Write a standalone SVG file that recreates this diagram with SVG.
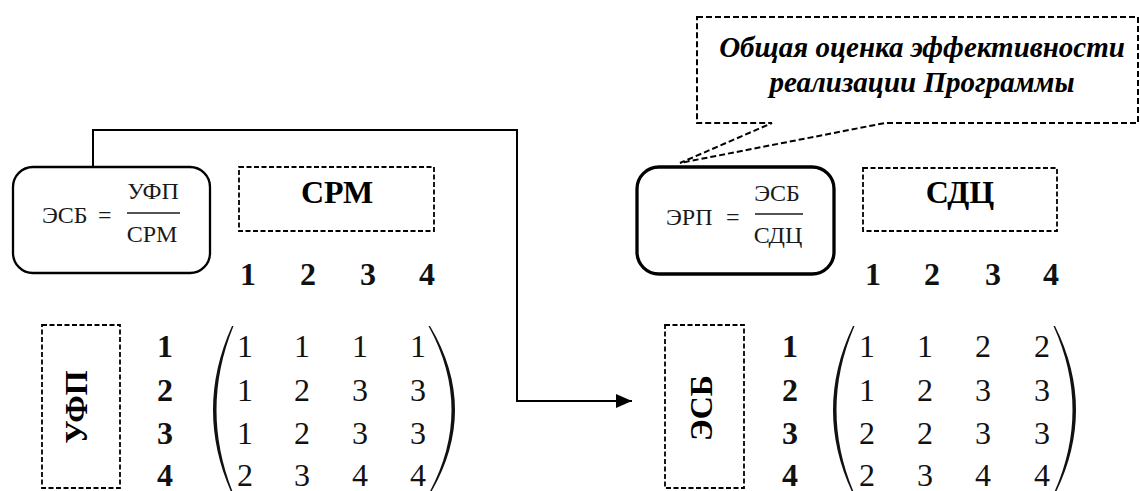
<svg xmlns="http://www.w3.org/2000/svg" width="1140" height="491" viewBox="0 0 1140 491">
<style>
.dash{fill:none;stroke:#000;stroke-width:1.8;stroke-dasharray:5 2.5}
.call{fill:none;stroke:#000;stroke-width:2;stroke-dasharray:6 3}
.rbox{fill:#fff;stroke:#000}
.lbl{font-family:"Liberation Serif",serif;font-weight:bold;font-size:32px;fill:#000;text-anchor:middle}
.num{font-family:"Liberation Serif",serif;font-size:32px;fill:#111;text-anchor:middle}
.hdr{font-family:"Liberation Serif",serif;font-weight:bold;font-size:32px;fill:#111;text-anchor:middle}
.f{font-family:"Liberation Serif",serif;font-size:24px;fill:#1a1a1a}
.fm{font-family:"Liberation Serif",serif;font-size:24px;fill:#1a1a1a;text-anchor:middle}
.it{font-family:"Liberation Serif",serif;font-weight:bold;font-style:italic;font-size:29px;fill:#000;text-anchor:middle}
.par{fill:#111}
</style>
<defs>
<marker id="arr" markerWidth="16" markerHeight="14" refX="16" refY="7" orient="auto" markerUnits="userSpaceOnUse">
<path d="M0,0 L16,7 L0,14 Z" fill="#000"/>
</marker>
</defs>

<g id="connectors">
<path d="M93,167 V130 H517 V401 H632" fill="none" stroke="#000" stroke-width="2" marker-end="url(#arr)"/>
</g>

<g id="callout">
<path class="call" d="M697,17 H1138 V123 H885 L680,163 L772,123 H697 Z"/>
<text class="it" x="922" y="57">Общая оценка эффективности</text>
<text class="it" x="922" y="92">реализации Программы</text>
</g>

<g id="formula-esb">
<rect class="rbox" x="13" y="167" width="197" height="106" rx="20" stroke-width="2.3"/>
<text class="f" x="42" y="223">ЭСБ</text>
<text class="f" x="98" y="223">=</text>
<text class="fm" x="153" y="199">УФП</text>
<line x1="127" y1="213" x2="180" y2="213" stroke="#1a1a1a" stroke-width="1.5"/>
<text class="fm" x="152" y="242">СРМ</text>
</g>

<g id="label-srm">
<rect class="dash" x="239" y="167" width="195" height="64"/>
<text class="lbl" x="337" y="203">СРМ</text>
</g>

<g id="headers-left">
<text class="hdr" x="248" y="285">1</text>
<text class="hdr" x="308" y="285">2</text>
<text class="hdr" x="368" y="285">3</text>
<text class="hdr" x="427" y="285">4</text>
</g>

<g id="label-ufp">
<rect class="dash" x="42" y="325" width="78" height="163"/>
<text class="lbl" transform="translate(87,407) rotate(-90)" x="0" y="0">УФП</text>
</g>

<g id="matrix-left">
<text class="hdr" x="165" y="357">1</text>
<text class="hdr" x="165" y="400.5">2</text>
<text class="hdr" x="165" y="444">3</text>
<text class="hdr" x="165" y="486">4</text>
<path class="par" d="M232,326 Q194,410 232,494 L233.5,494 Q199.5,410 233.5,326 Z"/>
<path class="par" d="M430,326 Q480,410 430,494 L428.5,494 Q474.5,410 428.5,326 Z"/>
<text class="num" x="245" y="357">1</text><text class="num" x="302" y="357">1</text><text class="num" x="360" y="357">1</text><text class="num" x="418" y="357">1</text>
<text class="num" x="245" y="400.5">1</text><text class="num" x="302" y="400.5">2</text><text class="num" x="360" y="400.5">3</text><text class="num" x="418" y="400.5">3</text>
<text class="num" x="245" y="444">1</text><text class="num" x="302" y="444">2</text><text class="num" x="360" y="444">3</text><text class="num" x="418" y="444">3</text>
<text class="num" x="245" y="486">2</text><text class="num" x="302" y="486">3</text><text class="num" x="360" y="486">4</text><text class="num" x="418" y="486">4</text>
</g>

<g id="formula-erp">
<rect class="rbox" x="637" y="167" width="197" height="107" rx="22" stroke-width="3.3"/>
<text class="f" x="666" y="225">ЭРП</text>
<text class="f" x="726" y="225">=</text>
<text class="fm" x="777" y="201">ЭСБ</text>
<line x1="755" y1="214" x2="803" y2="214" stroke="#1a1a1a" stroke-width="1.5"/>
<text class="fm" x="778" y="243">СДЦ</text>
</g>

<g id="label-sdc">
<rect class="dash" x="863" y="168" width="194" height="63"/>
<text class="lbl" x="960" y="203">СДЦ</text>
</g>

<g id="headers-right">
<text class="hdr" x="873" y="285">1</text>
<text class="hdr" x="932" y="285">2</text>
<text class="hdr" x="993" y="285">3</text>
<text class="hdr" x="1051" y="285">4</text>
</g>

<g id="label-esb">
<rect class="dash" x="665" y="325" width="79" height="163"/>
<text class="lbl" transform="translate(712,408) rotate(-90)" x="0" y="0">ЭСБ</text>
</g>

<g id="matrix-right">
<text class="hdr" x="790" y="357">1</text>
<text class="hdr" x="790" y="400.5">2</text>
<text class="hdr" x="790" y="444">3</text>
<text class="hdr" x="790" y="486">4</text>
<path class="par" d="M853,326 Q813,410 853,494 L854.5,494 Q818.5,410 854.5,326 Z"/>
<path class="par" d="M1055,326 Q1097,410 1055,494 L1053.5,494 Q1091.5,410 1053.5,326 Z"/>
<text class="num" x="867" y="357">1</text><text class="num" x="925" y="357">1</text><text class="num" x="983" y="357">2</text><text class="num" x="1042" y="357">2</text>
<text class="num" x="867" y="400.5">1</text><text class="num" x="925" y="400.5">2</text><text class="num" x="983" y="400.5">3</text><text class="num" x="1042" y="400.5">3</text>
<text class="num" x="867" y="444">2</text><text class="num" x="925" y="444">2</text><text class="num" x="983" y="444">3</text><text class="num" x="1042" y="444">3</text>
<text class="num" x="867" y="486">2</text><text class="num" x="925" y="486">3</text><text class="num" x="983" y="486">4</text><text class="num" x="1042" y="486">4</text>
</g>
</svg>
